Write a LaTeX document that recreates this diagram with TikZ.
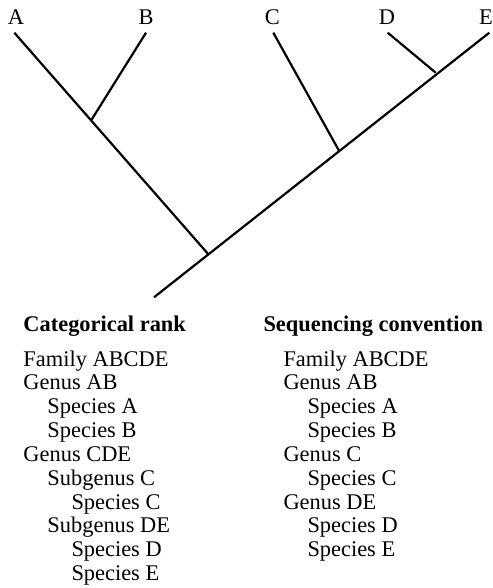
\documentclass[tikz,border=0pt]{standalone}
\usepackage{fontspec}
\setmainfont{Liberation Serif}
\begin{document}
\begin{tikzpicture}[x=1bp,y=-1bp,
  branch/.style={line width=2.2bp,line cap=butt},
  txt/.style={inner sep=0pt,anchor=base west,font=\fontsize{22.4bp}{24bp}\selectfont},
  head/.style={txt,font=\fontsize{22.4bp}{24bp}\selectfont\bfseries},
  tip/.style={inner sep=0pt,anchor=base,font=\fontsize{22.4bp}{24bp}\selectfont}]
\useasboundingbox (0,0) rectangle (493,588);

% tips of the tree
\coordinate (tA) at (14.3,32.7);
\coordinate (tB) at (146,32.7);
\coordinate (tC) at (273.3,32.7);
\coordinate (tD) at (387.7,32.7);
\coordinate (tE) at (489.3,32.7);
% internal branching points
\coordinate (nAB) at (91.7,119.5);
\coordinate (nC) at (339,150.7);
\coordinate (nDE) at (435.7,72.7);
\coordinate (root) at (208.3,254.2);
\coordinate (base) at (154,297.3);

% taxon labels
\node[tip] (lA) at (16,25) {A};
\node[tip] (lB) at (146,25) {B};
\node[tip] (lC) at (272.3,25) {C};
\node[tip] (lD) at (387,25) {D};
\node[tip,anchor=base east] (lE) at (493,25) {E};

% branches
\draw[branch] (tA) -- (root);
\draw[branch] (tB) -- (nAB);
\draw[branch] (base) -- (tE);
\draw[branch] (tC) -- (nC);
\draw[branch] (tD) -- (nDE);

% column headings
\node[head] (hRank) at (23.3,331.5) {Categorical rank};
\node[head] (hSeq) at (263.3,331.5) {Sequencing convention};

% categorical rank listing
\foreach \t/\ind [count=\i] in {Family ABCDE/0, Genus AB/0, Species A/1, Species B/1,
    Genus CDE/0, Subgenus C/1, Species C/2, Subgenus DE/1, Species D/2, Species E/2}
  \node[txt] (r\i) at (23.3+24*\ind, 366+23.85*\i-23.85) {\t};

% sequencing convention listing
\foreach \t/\ind [count=\i] in {Family ABCDE/0, Genus AB/0, Species A/1, Species B/1,
    Genus C/0, Species C/1, Genus DE/0, Species D/1, Species E/1}
  \node[txt] (s\i) at (283.3+24*\ind, 366+23.85*\i-23.85) {\t};
\end{tikzpicture}
\end{document}
